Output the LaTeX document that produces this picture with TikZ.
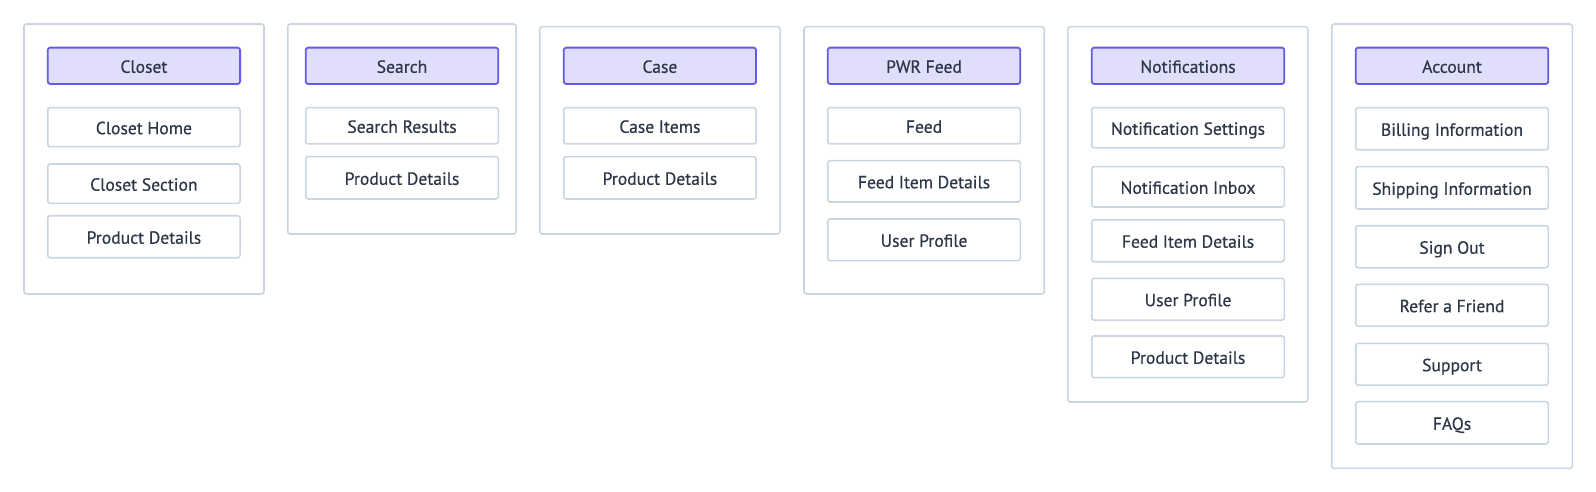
\documentclass[tikz,border=0pt]{standalone}
\usepackage{fontspec}
\setmainfont{PT Sans}
\newfontface\medface{PT Sans}[FakeBold=0.5]
\usepackage{xcolor}
\definecolor{panelgray}{HTML}{CBD5E0}
\definecolor{headfill}{HTML}{E0DEFB}
\definecolor{headline}{HTML}{6558EF}
\definecolor{inktext}{HTML}{2D3748}

\tikzset{
    panel/.style={draw=panelgray, line width=1.6pt, rounded corners=2.5pt, inner sep=0pt},
    tabhead/.style={draw=headline, fill=headfill, line width=1.8pt, rounded corners=2.5pt,
        inner sep=0pt, text=inktext, text height=14pt, text depth=0pt,
        font=\medface\fontsize{17.6}{20}\selectfont},
    tabitem/.style={draw=panelgray, fill=white, line width=1.6pt, rounded corners=2.5pt,
        inner sep=0pt, text=inktext, text height=14pt, text depth=0pt,
        font=\medface\fontsize{17.6}{20}\selectfont}
}

\begin{document}
\begin{tikzpicture}[x=1pt, y=-1pt]
    \useasboundingbox (0,0) rectangle (1596,492);
    % outer panels
    \node [panel, minimum width=240pt, minimum height=270pt] (closetpanel) at (144,159) {};
    \node [panel, minimum width=228.3pt, minimum height=210pt] (searchpanel) at (401.9,129) {};
    \node [panel, minimum width=240.3pt, minimum height=207.3pt] (casepanel) at (659.9,130.3) {};
    \node [panel, minimum width=240.3pt, minimum height=267.3pt] (feedpanel) at (924.1,160.3) {};
    \node [panel, minimum width=240pt, minimum height=375.3pt] (notifpanel) at (1187.8,214.3) {};
    \node [panel, minimum width=240.6pt, minimum height=444.3pt] (accountpanel) at (1452,246.2) {};

    % Closet
    \begin{scope}[every node/.style={minimum width=192.4pt}]
        \node [tabhead, minimum height=36.3pt] (closet) at (143.9,65.8) {Closet};
        \node [tabitem, minimum height=39pt] (closethome) at (143.9,127.2) {Closet Home};
        \node [tabitem, minimum height=39.3pt] (closetsection) at (143.9,183.7) {Closet Section};
        \node [tabitem, minimum height=42pt] (closetproduct) at (143.9,236.7) {Product Details};
    \end{scope}

    % Search
    \begin{scope}[every node/.style={minimum width=192.6pt}]
        \node [tabhead, minimum height=36.3pt] (search) at (402,65.8) {Search};
        \node [tabitem, minimum height=36.3pt] (searchresults) at (402,125.8) {Search Results};
        \node [tabitem, minimum height=42.3pt] (searchproduct) at (402,177.8) {Product Details};
    \end{scope}

    % Case
    \begin{scope}[every node/.style={minimum width=192.3pt}]
        \node [tabhead, minimum height=36.3pt] (case) at (659.9,65.8) {Case};
        \node [tabitem, minimum height=36.3pt] (caseitems) at (659.9,125.8) {Case Items};
        \node [tabitem, minimum height=42.3pt] (caseproduct) at (659.9,177.8) {Product Details};
    \end{scope}

    % PWR Feed
    \begin{scope}[every node/.style={minimum width=192.6pt}]
        \node [tabhead, minimum height=36.3pt] (pwrfeed) at (924,65.8) {PWR Feed};
        \node [tabitem, minimum height=36.3pt] (feed) at (924,125.8) {Feed};
        \node [tabitem, minimum height=41.3pt] (feeditem) at (924,181.3) {Feed Item Details};
        \node [tabitem, minimum height=41.7pt] (feedprofile) at (924,239.8) {User Profile};
    \end{scope}

    % Notifications
    \begin{scope}[every node/.style={minimum width=192.6pt}]
        \node [tabhead, minimum height=36.3pt] (notif) at (1188,65.8) {Notifications};
        \node [tabitem, minimum height=40.3pt] (notifsettings) at (1188,127.8) {Notification Settings};
        \node [tabitem, minimum height=40.3pt] (notifinbox) at (1188,186.8) {Notification Inbox};
        \node [tabitem, minimum height=42pt] (notifitem) at (1188,240.7) {Feed Item Details};
        \node [tabitem, minimum height=41.7pt] (notifprofile) at (1188,299.2) {User Profile};
        \node [tabitem, minimum height=41.7pt] (notifproduct) at (1188,356.8) {Product Details};
    \end{scope}

    % Account
    \begin{scope}[every node/.style={minimum width=192.6pt}]
        \node [tabhead, minimum height=36.3pt] (account) at (1452,65.8) {Account};
        \node [tabitem, minimum height=42.3pt] (billing) at (1452,128.8) {Billing Information};
        \node [tabitem, minimum height=42.3pt] (shipping) at (1452,187.8) {Shipping Information};
        \node [tabitem, minimum height=42pt] (signout) at (1452,246.7) {Sign Out};
        \node [tabitem, minimum height=41.7pt] (refer) at (1452,305.2) {Refer a Friend};
        \node [tabitem, minimum height=41.7pt] (support) at (1452,364.2) {Support};
        \node [tabitem, minimum height=42.3pt] (faqs) at (1452,422.8) {FAQs};
    \end{scope}
\end{tikzpicture}
\end{document}
